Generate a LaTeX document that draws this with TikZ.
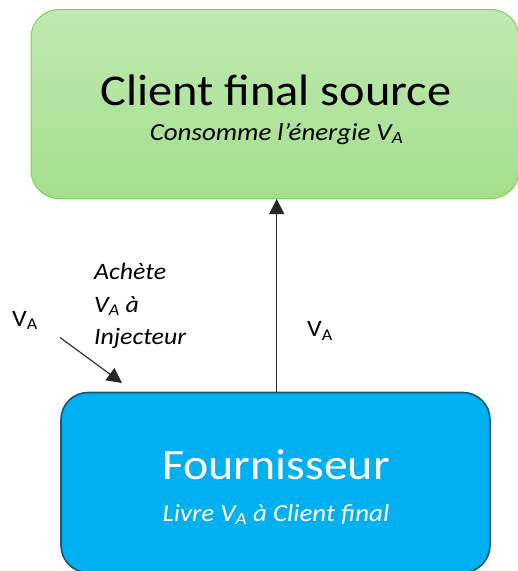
\documentclass[tikz,border=0pt]{standalone}
\usepackage{fontspec}
\setmainfont{Carlito}[FakeStretch=1.1]
\usetikzlibrary{positioning,arrows.meta}
\definecolor{greentop}{HTML}{C0E9B1}
\definecolor{greenbot}{HTML}{A3DF8C}
\definecolor{greenline}{HTML}{7ED25E}
\definecolor{bluefill}{HTML}{00B0F0}
\definecolor{blueline}{HTML}{1B5670}
\begin{document}
\begin{tikzpicture}[x=1pt,y=-1pt,
  clientbox/.style={rounded corners=28pt,draw=greenline,line width=1pt,
    top color=greentop,bottom color=greenbot,minimum width=488pt,minimum height=189pt},
  supplierbox/.style={rounded corners=27pt,draw=blueline,line width=1.6pt,
    fill=bluefill,minimum width=429pt,minimum height=180pt},
  flow/.style={line width=1.1pt,draw=black!85,-{Triangle[length=15pt,width=15pt]}},
  lbl/.style={font=\fontsize{23.5}{28}\selectfont,inner sep=0pt,anchor=base west}]
\useasboundingbox (0,0) rectangle (518,571);
% boxes
\node [clientbox] (client) at (275,104) {};
\node [supplierbox] (supplier) at (275.5,482.5) {};
\node [anchor=base] (clienttitle) at (276,105) {\fontsize{44}{50}\selectfont Client final source};
\node [anchor=base] (clientsub) at (276.5,140) {\fontsize{24.5}{28}\selectfont\itshape Consomme l’énergie V\textsubscript{A}};
\node [anchor=base,text=white] (suppliertitle) at (276,479) {\fontsize{43.5}{50}\selectfont Fournisseur};
\node [anchor=base,text=white] (suppliersub) at (276,521) {\fontsize{24.5}{28}\selectfont\itshape Livre V\textsubscript{A} à Client final};
% flows
\draw [flow] ([xshift=1.2pt]supplier.north) -- ([xshift=1.7pt]client.south);
\node [lbl] (vaup) at (307,336.5) {V\textsubscript{A}};
\coordinate (buystart) at (60,337.5);
\coordinate (buyend) at (122,383);
\draw [flow] (buystart) -- (buyend);
\node [lbl] (vabuy) at (12,326) {V\textsubscript{A}};
\node [lbl,font=\fontsize{23.5}{28}\selectfont\itshape] (buy1) at (94,279) {Achète};
\node [lbl,font=\fontsize{23.5}{28}\selectfont\itshape] (buy2) at (94,312) {V\textsubscript{A} à};
\node [lbl,font=\fontsize{23.5}{28}\selectfont\itshape] (buy3) at (94,344) {Injecteur};
\end{tikzpicture}
\end{document}
